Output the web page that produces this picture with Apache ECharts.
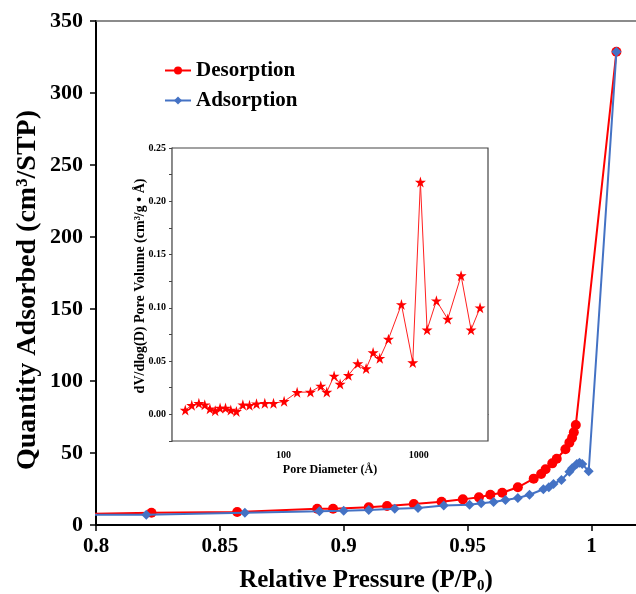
<!DOCTYPE html>
<html><head><meta charset="utf-8">
<script src="https://cdn.jsdelivr.net/npm/echarts@6/dist/echarts.min.js"></script>
<style>html,body{margin:0;padding:0;background:#fff}#c{width:636px;height:594px}</style>
</head><body><div id="c"></div>
<script>
// Main isotherm: Desorption
const desP = [0.75, 0.8224, 0.8570, 0.8893, 0.8957, 0.9101, 0.9175, 0.9283, 0.9395, 0.9481, 0.9546, 0.9592, 0.9640, 0.9703, 0.9767, 0.9797, 0.9815, 0.9842, 0.9860, 0.9895, 0.9911, 0.9922, 0.9929, 0.9937, 1.0101];
const desQ = [6.3, 8.5, 9.0, 11.3, 11.3, 12.3, 13.2, 14.6, 16.1, 17.8, 19.2, 21.0, 22.4, 26.2, 32.2, 35.4, 38.7, 42.8, 46.0, 52.6, 57.2, 60.6, 64.4, 69.4, 328.7];
// Main isotherm: Adsorption
const adsP = [0.75, 0.8203, 0.8601, 0.8902, 0.9000, 0.9101, 0.9206, 0.9300, 0.9404, 0.9508, 0.9555, 0.9605, 0.9653, 0.9703, 0.9750, 0.9806, 0.9828, 0.9847, 0.9879, 0.9911, 0.9922, 0.9941, 0.9952, 0.9963, 0.9989, 1.0101];
const adsQ = [7.0, 7.2, 8.5, 9.5, 9.9, 10.4, 11.3, 11.8, 13.5, 14.1, 15.1, 16.0, 17.4, 18.8, 21.0, 24.8, 26.2, 28.5, 31.3, 37.0, 39.4, 42.4, 43.3, 42.4, 37.3, 328.7];
// Inset: pore size distribution
const poreD = [18.8, 21.0, 23.7, 26.2, 28.6, 31.3, 34.0, 37.3, 40.8, 44.9, 50.1, 56.1, 63.2, 72.8, 84.4, 101.1, 126.2, 158.3, 188.7, 209.0, 236.8, 262.3, 302.2, 354.2, 408.2, 459.8, 515.1, 597.0, 744.7, 903.1, 1028.7, 1152.5, 1350.8, 1638.5, 2055.4, 2436, 2839];
const poreV = [0.0041, 0.0085, 0.0104, 0.0091, 0.0053, 0.0035, 0.0060, 0.0060, 0.0041, 0.0028, 0.0091, 0.0085, 0.0100, 0.0104, 0.0104, 0.0122, 0.0207, 0.0210, 0.0267, 0.0210, 0.0361, 0.0285, 0.0367, 0.0477, 0.0430, 0.0580, 0.0527, 0.0706, 0.1032, 0.0486, 0.2180, 0.0794, 0.1067, 0.0894, 0.1302, 0.0794, 0.1001];
// Tick settings
const mainYTicks = {min: 0, max: 350, interval: 50};
const mainXTicks = {min: 0.8, max: 1.018, interval: 0.05};
const insetXLabels = [100, 1000];
const insetXTicks = [20, 30, 40, 50, 60, 70, 80, 90, 100, 200, 300, 400, 500, 600, 700, 800, 900, 1000, 2000, 3000];
const insetYTicks = {min: -0.025, max: 0.25, interval: 0.025};
// Titles
const mainYTitle = 'Quantity Adsorbed (cm³/STP)';
const mainXTitle = 'Relative Pressure (P/P{sub|0})';
const insetYTitle = 'dV/dlog(D) Pore Volume (cm³/g • Å)';
const insetXTitle = 'Pore Diameter (Å)';

const FONT = "'Liberation Serif','Times New Roman',serif";
const zip = (a, b) => a.map((v, i) => [v, b[i]]);
const star = 'path://M50,0 L61,35 L98,35 L68,57 L79,91 L50,70 L21,91 L32,57 L2,35 L39,35 Z';

const chart = echarts.init(document.getElementById('c'), null, {renderer: 'canvas'});
chart.setOption({
  backgroundColor: '#fff',
  animation: false,
  legend: {
    data: ['Desorption', 'Adsorption'],
    orient: 'vertical', left: 159, top: 55,
    itemWidth: 26, itemHeight: 10, itemGap: 9,
    textStyle: {fontFamily: FONT, fontWeight: 'bold', fontSize: 21, color: '#000'}
  },
  graphic: [
    {type: 'text', x: 28, y: 290, rotation: Math.PI / 2, z: 20,
      style: {text: mainYTitle, fill: '#000', font: "bold 28px " + FONT, align: 'center', verticalAlign: 'middle'}},
    {type: 'text', x: 140, y: 286, rotation: Math.PI / 2, z: 20,
      style: {text: insetYTitle, fill: '#000', font: "bold 14px " + FONT, align: 'center', verticalAlign: 'middle'}}
  ],
  grid: [
    {left: 96, top: 21, right: 0, bottom: 69, outerBoundsMode: 'none', containLabel: false},
    {left: 172, top: 148, width: 316, height: 293, outerBoundsMode: 'none', containLabel: false,
      show: true, backgroundColor: '#fff', borderColor: '#444', borderWidth: 1.2, z: 5}
  ],
  xAxis: [
    {
      type: 'value', gridIndex: 0, min: mainXTicks.min, max: mainXTicks.max, interval: mainXTicks.interval,
      axisLine: {lineStyle: {color: '#000', width: 2}},
      axisTick: {inside: false, length: 6, lineStyle: {color: '#000', width: 1.5}},
      axisLabel: {showMaxLabel: false, margin: 11, fontFamily: FONT, fontWeight: 'bold', fontSize: 21, color: '#000'},
      splitLine: {show: false},
      name: mainXTitle, nameLocation: 'middle', nameGap: 43,
      nameTextStyle: {fontFamily: FONT, fontWeight: 'bold', fontSize: 25, color: '#000',
        rich: {sub: {fontFamily: FONT, fontWeight: 'bold', fontSize: 15, color: '#000', padding: [11, 0, 0, 0]}}}
    },
    {
      type: 'value', gridIndex: 0, position: 'top', min: mainXTicks.min, max: mainXTicks.max,
      axisLine: {show: true, onZero: false, lineStyle: {color: '#666', width: 1.5}},
      axisTick: {show: false}, axisLabel: {show: false}, splitLine: {show: false}
    },
    {
      type: 'log', gridIndex: 1, min: 15, max: 3250, logBase: 10,
      axisLine: {show: true, lineStyle: {color: '#444', width: 1.2}},
      axisTick: {show: true, inside: true, length: 4, customValues: insetXTicks, lineStyle: {color: '#444'}},
      axisLabel: {customValues: insetXLabels, formatter: v => String(Math.round(v)), margin: 9,
        fontFamily: FONT, fontWeight: 'bold', fontSize: 10, color: '#000'},
      splitLine: {show: false}, minorTick: {show: false},
      name: insetXTitle, nameLocation: 'middle', nameGap: 23,
      nameTextStyle: {fontFamily: FONT, fontWeight: 'bold', fontSize: 12, color: '#000'}
    }
  ],
  yAxis: [
    {
      type: 'value', gridIndex: 0, min: mainYTicks.min, max: mainYTicks.max, interval: mainYTicks.interval,
      axisLine: {show: true, lineStyle: {color: '#000', width: 2}},
      axisTick: {show: true, inside: false, length: 6, lineStyle: {color: '#000', width: 1.5}},
      axisLabel: {margin: 13, fontFamily: FONT, fontWeight: 'bold', fontSize: 22, color: '#000'},
      splitLine: {show: false}
    },
    {
      type: 'value', gridIndex: 1, min: insetYTicks.min, max: insetYTicks.max, interval: insetYTicks.interval,
      axisLine: {show: true, lineStyle: {color: '#444', width: 1.2}},
      axisTick: {show: true, inside: false, length: 3, lineStyle: {color: '#444'}},
      axisLabel: {margin: 6, fontFamily: FONT, fontWeight: 'bold', fontSize: 10, color: '#000',
        formatter: v => {
          const k = Math.round(v / 0.025);
          return (k >= 0 && k % 2 === 0) ? v.toFixed(2) : '';
        }},
      splitLine: {show: false}
    }
  ],
  series: [
    {
      name: 'Desorption', type: 'line', xAxisIndex: 0, yAxisIndex: 0,
      data: zip(desP, desQ), symbol: 'circle', symbolSize: 10,
      itemStyle: {color: '#FF0000'}, lineStyle: {color: '#FF0000', width: 2}, z: 3
    },
    {
      name: 'Adsorption', type: 'line', xAxisIndex: 0, yAxisIndex: 0,
      data: zip(adsP, adsQ), symbol: 'diamond', symbolSize: 10,
      itemStyle: {color: '#4472C4'}, lineStyle: {color: '#4472C4', width: 2}, z: 4
    },
    {
      name: 'PSD', type: 'line', xAxisIndex: 2, yAxisIndex: 1,
      data: zip(poreD, poreV), symbol: star, symbolSize: 11,
      itemStyle: {color: '#FF0000'}, lineStyle: {color: '#FF2020', width: 1}, z: 10
    }
  ]
});
</script>
</body></html>
